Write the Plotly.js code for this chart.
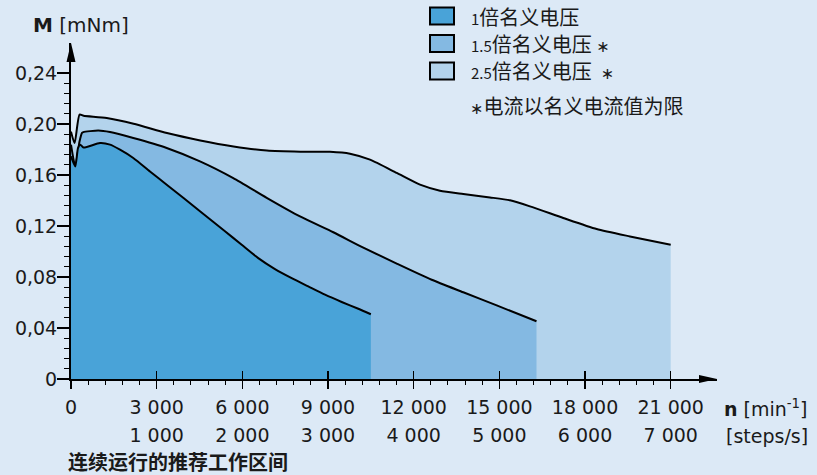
<!DOCTYPE html>
<html>
<head>
<meta charset="utf-8">
<script src="https://cdn.plot.ly/plotly-3.0.1.min.js"></script>
<style>html,body{margin:0;padding:0;background:#DCE9F6;}#chart{width:817px;height:475px;}</style>
</head>
<body>
<div id="chart"></div>
<script>
// ---- data ----
var rpm1x = [0,150,245,326,441,1015,1366,1716,2181,2766,3351,4517,5392,5977,6558,7143,7728,8309,8895,9479,10061,10500];
var torque1x = [0.1746,0.1667,0.1810,0.1838,0.1815,0.1850,0.1838,0.1798,0.1733,0.1627,0.1524,0.1316,0.1159,0.1053,0.0948,0.0862,0.0791,0.0726,0.0661,0.0604,0.0551,0.0508];

var rpm15x = [0,150,300,385,431,956,1366,2182,3351,4517,5683,6853,8019,9185,10236,11405,12631,13737,14907,16300];
var torque15x = [0.1838,0.1667,0.1864,0.1930,0.1936,0.1949,0.1937,0.1890,0.1812,0.1707,0.1576,0.1421,0.1275,0.1151,0.1030,0.0905,0.0778,0.0680,0.0577,0.0453];

var rpm25x = [0,126,300,441,1250,2191,3360,4526,5691,6860,8030,9069,9769,10470,11405,12221,12921,13737,14670,15371,16071,17237,18407,19573,21000];
var torque25x = [0.194,0.185,0.2073,0.2065,0.2047,0.2002,0.1929,0.1871,0.1824,0.1791,0.1783,0.1782,0.1767,0.1720,0.1616,0.1524,0.1477,0.1451,0.1424,0.1401,0.1354,0.1263,0.1176,0.1118,0.1053];

var xTickVals = [0,3000,6000,9000,12000,15000,18000,21000];
var rpmLabels = ['0','3 000','6 000','9 000','12 000','15 000','18 000','21 000'];
var stepTickVals = [3000,6000,9000,12000,15000,18000,21000];
var stepLabels = ['1 000','2 000','3 000','4 000','5 000','6 000','7 000'];
var yTickVals = [0,0.04,0.08,0.12,0.16,0.20,0.24];
var yTickLabels = ['0','0,04','0,08','0,12','0,16','0,20','0,24'];

var footnote = '<span style="font-size:16px">∗</span>电流以名义电流值为限';
var caption = '连续运行的推荐工作区间';

// ---- styling ----
var BG = '#DCE9F6';
var C1 = '#49A3D8', C15 = '#84B9E2', C25 = '#B3D3EC';
var FONT = 'DejaVu Sans, sans-serif';
var CJK = 'Noto Sans CJK SC, DejaVu Sans, sans-serif';

// plot box in pixels
var L = 71, T = 43, W = 646, H = 336;
function px(x){ return (x - L) / W; }
function py(y){ return (T + H - y) / H; }

var XMAX = 22621, YMAX = 0.2635;

var minorX = [];
for (var k = 600; k < 21000; k += 600) { if (k % 3000 !== 0) minorX.push(k); }
var minorY = [];
for (var j = 1; j < 30; j++) { if (j % 5 !== 0) minorY.push(+(j * 0.008).toFixed(3)); }

function area(x, y, color) {
  return {x: x, y: y, type: 'scatter', mode: 'lines', fill: 'tozeroy', fillcolor: color,
    line: {color: '#000', width: 2, shape: 'spline', smoothing: 0.6}, hoverinfo: 'skip', showlegend: false};
}
var traces = [area(rpm25x, torque25x, C25), area(rpm15x, torque15x, C15), area(rpm1x, torque1x, C1)];
// carrier for the second (steps/s) label row
traces.push({x: stepTickVals, y: stepTickVals.map(function(){ return 0; }), xaxis: 'x2', yaxis: 'y',
  type: 'scatter', mode: 'markers', marker: {opacity: 0, size: 1}, hoverinfo: 'skip', showlegend: false});

var shapes = [
  {type: 'path', xref: 'paper', yref: 'paper', xsizemode: 'pixel', ysizemode: 'pixel', xanchor: 0, yanchor: 1,
   path: 'M0,0 L-4.5,-19 L4.5,-19 Z', fillcolor: '#000', line: {width: 0}},
  {type: 'path', xref: 'paper', yref: 'paper', xsizemode: 'pixel', ysizemode: 'pixel', xanchor: 1, yanchor: 0,
   path: 'M0,0 L-18,4 L-18,-4 Z', fillcolor: '#000', line: {width: 0}}
];
var swatchColors = [C1, C15, C25];
var swTop = [7.5, 35, 62.5];
for (var i = 0; i < 3; i++) {
  shapes.push({type: 'rect', xref: 'paper', yref: 'paper', x0: px(430), x1: px(454), y0: py(swTop[i] + 17), y1: py(swTop[i]),
    fillcolor: swatchColors[i], line: {color: '#000', width: 2}});
}

var legendText = [
  '<span style="font-size:15px">1</span>倍名义电压',
  '<span style="font-size:15px">1.5</span>倍名义电压 <span style="font-size:16px">∗</span>',
  '<span style="font-size:15px">2.5</span>倍名义电压  <span style="font-size:16px">∗</span>'
];
var rowY = [16, 43.5, 70.5];
var annotations = [];
for (var i = 0; i < 3; i++) {
  annotations.push({xref: 'paper', yref: 'paper', x: px(469), y: py(rowY[i]), xanchor: 'left', yanchor: 'middle',
    text: legendText[i], showarrow: false, font: {family: CJK, size: 20, color: '#1a1a1a'}});
}
annotations.push({xref: 'paper', yref: 'paper', x: px(468), y: py(105), xanchor: 'left', yanchor: 'middle',
  text: footnote, showarrow: false, font: {family: CJK, size: 20, color: '#1a1a1a'}});
annotations.push({xref: 'paper', yref: 'paper', x: px(31), y: py(24.5), xanchor: 'left', yanchor: 'middle',
  text: '<b>M</b> [mNm]', showarrow: false, font: {family: FONT, size: 20, color: '#1a1a1a'}});
annotations.push({xref: 'paper', yref: 'paper', x: px(810), y: py(407.5), xanchor: 'right', yanchor: 'middle',
  text: '<b>n</b> [min<sup>-1</sup>]', showarrow: false, font: {family: FONT, size: 19, color: '#1a1a1a'}});
annotations.push({xref: 'paper', yref: 'paper', x: px(810), y: py(436), xanchor: 'right', yanchor: 'middle',
  text: '[steps/s]', showarrow: false, font: {family: FONT, size: 19, color: '#1a1a1a'}});
annotations.push({xref: 'paper', yref: 'paper', x: px(66), y: py(461.5), xanchor: 'left', yanchor: 'middle',
  text: '<b>' + caption + '</b>', showarrow: false, font: {family: CJK, size: 20, color: '#1a1a1a'}});

var layout = {
  width: 817, height: 475,
  margin: {l: L, r: 817 - L - W, t: T, b: 475 - T - H, pad: 0},
  paper_bgcolor: BG, plot_bgcolor: BG,
  font: {family: FONT, size: 19, color: '#1a1a1a'},
  showlegend: false, hovermode: false,
  xaxis: {range: [0, XMAX], showgrid: false, zeroline: false, showline: true, linecolor: '#000', linewidth: 2,
    tickmode: 'array', tickvals: xTickVals, ticktext: rpmLabels, ticks: 'outside', ticklen: 8, tickwidth: 1.5, tickcolor: '#000',
    ticklabelstandoff: 2,
    minor: {tickmode: 'array', tickvals: minorX, ticks: 'outside', ticklen: 4, tickwidth: 1, tickcolor: '#000'},
    tickfont: {family: FONT, size: 19, color: '#1a1a1a'}, fixedrange: true},
  xaxis2: {range: [0, XMAX], overlaying: 'x', anchor: 'y', side: 'bottom', showgrid: false, zeroline: false, showline: false,
    tickmode: 'array', tickvals: stepTickVals, ticktext: stepLabels, ticks: 'inside', ticklen: 8, tickwidth: 1.5, tickcolor: '#000',
    ticklabelstandoff: 43,
    tickfont: {family: FONT, size: 19, color: '#1a1a1a'}, fixedrange: true},
  yaxis: {range: [0, YMAX], showgrid: false, zeroline: false, showline: true, linecolor: '#000', linewidth: 2,
    tickmode: 'array', tickvals: yTickVals, ticktext: yTickLabels, ticks: 'outside', ticklen: 12, tickwidth: 1.5, tickcolor: '#000',
    ticklabelstandoff: -4,
    minor: {tickmode: 'array', tickvals: minorY, ticks: 'outside', ticklen: 5, tickwidth: 1, tickcolor: '#000'},
    tickfont: {family: FONT, size: 19, color: '#1a1a1a'}, fixedrange: true},
  shapes: shapes,
  annotations: annotations
};

Plotly.newPlot('chart', traces, layout, {staticPlot: true, displayModeBar: false});
</script>
</body>
</html>
